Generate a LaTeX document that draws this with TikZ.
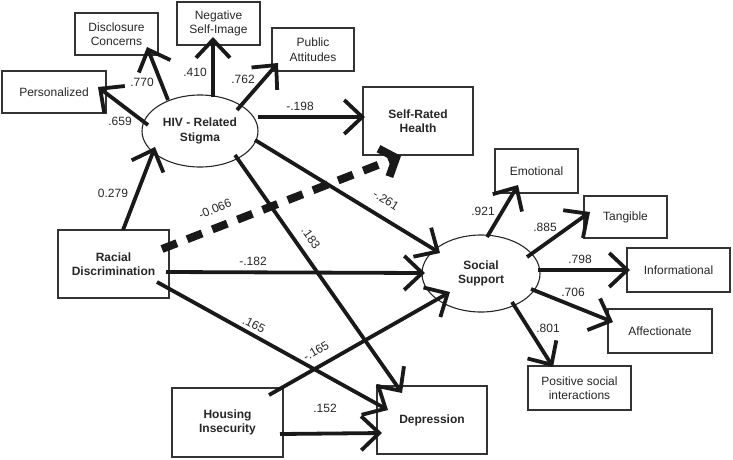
\documentclass[tikz,border=0pt]{standalone}
\usepackage{fontspec}
\setmainfont{Liberation Sans}
\usetikzlibrary{arrows.meta,calc,shapes.geometric}
\begin{document}
\begin{tikzpicture}[x=1pt,y=-1pt,
  box/.style 2 args={draw=black!80, line width=1.3pt, rectangle, minimum width=#1, minimum height=#2, inner sep=0pt, align=center, font=\fontsize{12}{14.5}\selectfont, text=black!85},
  bbox/.style 2 args={box={#1}{#2}, font=\fontsize{12}{14.5}\selectfont\bfseries},
  latent/.style={draw=black!85, ellipse, line width=1.1pt, minimum width=116pt, minimum height=72pt, inner sep=0pt, align=center, font=\fontsize{12}{14.5}\selectfont\bfseries, text=black!85},
  conn/.style={draw=black!90, line width=3.8pt, -{Straight Barb[length=18pt,width=34pt]}},
  dashconn/.style={draw=black!90, line width=8pt, dash pattern=on 16pt off 11pt, -{Straight Barb[length=13pt,width=30pt]}},
  lab/.style={font=\fontsize{12}{14}\selectfont, inner sep=0.5pt, text=black!85}]
\useasboundingbox (0,0) rectangle (733,459);

% nodes
\node[box={104pt}{42pt}] (pers) at (54,92) {Personalized};
\node[box={83pt}{42pt}] (disc) at (116.5,34) {Disclosure\\Concerns};
\node[box={83pt}{43pt}] (neg) at (218.5,23.5) {Negative\\Self-Image};
\node[box={82pt}{43pt}] (pub) at (313,49.5) {Public\\Attitudes};
\node[latent] (hiv) at (200,131) {HIV - Related\\Stigma};
\node[bbox={110pt}{68pt}] (srh) at (418,121) {Self-Rated\\Health};
\node[box={83pt}{44pt}] (emo) at (536.5,171) {Emotional};
\node[box={83pt}{42pt}] (tan) at (625.5,217) {Tangible};
\node[bbox={111pt}{68pt}] (racial) at (113.5,264) {Racial\\Discrimination};
\node[bbox={111pt}{69pt}] (housing) at (227.5,422.5) {Housing\\Insecurity};
\node[latent, minimum width=118pt, minimum height=77pt] (ss) at (481,273.5) {Social\\Support};
\node[box={103pt}{44pt}] (inf) at (678.5,270) {Informational};
\node[box={104pt}{44pt}] (aff) at (660,331) {Affectionate};
\node[box={103pt}{44pt}] (pos) at (579.5,388) {Positive social\\interactions};
\node[bbox={110pt}{68pt}] (dep) at (432,420) {Depression};

% connectors
\draw[conn] ($(hiv)+(-52,-6)$) -- ($(pers)+(44,-5)$);
\draw[conn] ($(hiv)+(-32,-31)$) -- ($(disc)+(30.5,13)$);
\draw[conn] ($(hiv)+(13,-34)$) -- ($(neg)+(-5.5,13.5)$);
\draw[conn] ($(hiv)+(37,-21)$) -- ($(pub)+(-35,13.5)$);
\draw[conn] ($(hiv)+(58,-14)$) -- ($(srh)+(-53,-4)$);
\draw[conn] ($(racial)+(9.5,-34)$) -- ($(hiv)+(-45,16)$);
\draw[dashconn] ($(racial)+(48.5,-15)$) -- ($(srh)+(-17,35)$);
\draw[conn] ($(hiv)+(55,9)$) -- ($(ss)+(-41,-20.5)$);
\draw[conn] ($(hiv)+(35,24)$) -- ($(dep)+(-30,-27)$);
\draw[conn] ($(racial)+(52.5,8)$) -- ($(ss)+(-56,-0.5)$);
\draw[conn] ($(racial)+(43.5,18)$) -- ($(dep)+(-44,-10)$);
\draw[conn] ($(housing)+(41.5,-27.5)$) -- ($(ss)+(-31,18.5)$);
\draw[conn] ($(housing)+(52.5,11.5)$) -- ($(dep)+(-50,13)$);
\draw[conn] ($(ss)+(6,-36.5)$) -- ($(emo)+(-18.5,14)$);
\draw[conn] ($(ss)+(46,-16.5)$) -- ($(tan)+(-35.5,-5)$);
\draw[conn] ($(ss)+(57,-3.5)$) -- ($(inf)+(-48.5,0)$);
\draw[conn] ($(ss)+(50,15.5)$) -- ($(aff)+(-47,-9)$);
\draw[conn] ($(ss)+(31,28.5)$) -- ($(pos)+(-26.5,-21)$);

% labels
\node[lab] (l659) at (120,121) {.659};
\node[lab] (l770) at (142,82) {.770};
\node[lab] (l410) at (195,72) {.410};
\node[lab] (l762) at (243,79) {.762};
\node[lab] (l198) at (300,106) {-.198};
\node[lab] (l279) at (113,193) {0.279};
\node[lab, rotate=22] (l066) at (215,209) {-0.066};
\node[lab, rotate=-32] (l261) at (386,200) {-.261};
\node[lab, rotate=-55] (l183) at (311,238) {.183};
\node[lab] (l182) at (253,261) {-.182};
\node[lab, rotate=-27] (l165a) at (254,325) {.165};
\node[lab, rotate=30] (l165b) at (316,351) {-.165};
\node[lab] (l152) at (325,408) {.152};
\node[lab] (l921) at (483,211) {.921};
\node[lab] (l885) at (545,227) {.885};
\node[lab] (l798) at (580,259) {.798};
\node[lab] (l706) at (573,292) {.706};
\node[lab] (l801) at (548,328) {.801};
\end{tikzpicture}
\end{document}
